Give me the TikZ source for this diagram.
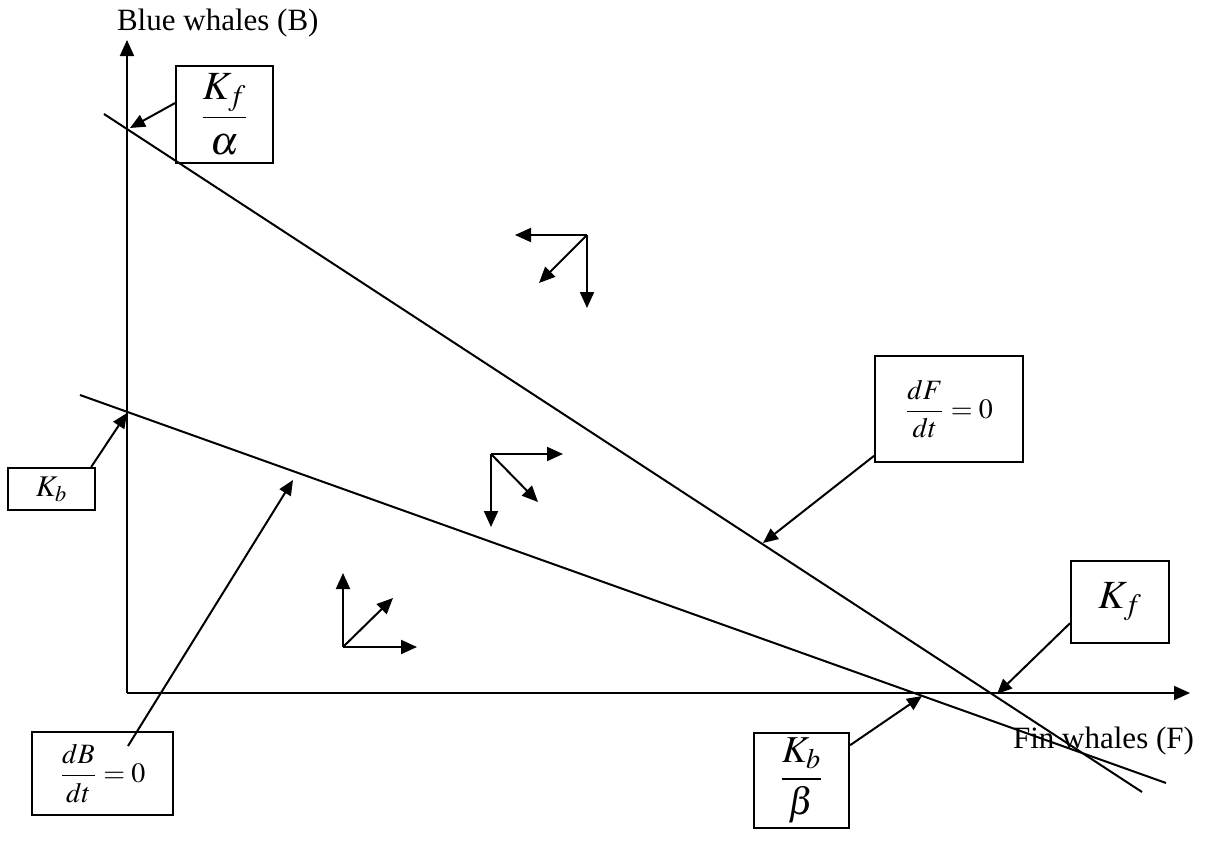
\documentclass[tikz,border=0pt]{standalone}
\usepackage{amsmath}
\usepackage{mathptmx}
\usepackage{fontspec}
\setmainfont{Liberation Serif}
\usetikzlibrary{arrows.meta,calc}

\begin{document}
\begin{tikzpicture}[
    x=0.5pt, y=-0.5pt,
    every node/.style={font=\fontsize{15.5}{18}\selectfont},
    labelbox/.style={draw, line width=1pt, inner sep=0pt},
    pointer/.style={line width=1pt, -{Triangle[length=7.5pt,width=6.5pt]}},
    vec/.style={line width=1pt, -{Triangle[length=8pt,width=7pt]}},
    axis/.style={line width=1pt, -{Triangle[length=8pt,width=7pt]}},
    isocline/.style={line width=1pt}
]
\useasboundingbox (0,0) rectangle (1205,846);

% axes
\coordinate (O) at (127,693);
\coordinate (xend) at (1190,693);
\coordinate (yend) at (127,40);
\draw[axis] (O) -- (xend);
\draw[axis] (O) -- (yend);
\node[anchor=base west] (ylab) at (110,30) {Blue whales (B)};
\node[anchor=base east] (xlab) at (1201,748) {Fin whales (F)};

% isoclines
\draw[isocline] (104,114) -- (1142,792);
\draw[isocline] (80,395) -- (1166,783);

% label boxes
\node[labelbox, minimum width=48.5pt, minimum height=48.5pt, font=\fontsize{20}{22}\selectfont] (KfA) at (224.5,114.5) {$\dfrac{K_f}{\alpha}$};
\node[labelbox, minimum width=43.5pt, minimum height=21pt, font=\fontsize{15}{17}\selectfont] (Kb) at (51.5,489) {$K_b$};
\node[labelbox, minimum width=70.5pt, minimum height=41.5pt, font=\fontsize{14}{16}\selectfont] (dBdt) at (102.5,773.5) {$\dfrac{dB}{dt}=0$};
\node[labelbox, minimum width=47.5pt, minimum height=47.5pt, font=\fontsize{19}{21}\selectfont] (KbB) at (801.5,780.5) {$\dfrac{K_b}{\beta}$};
\node[labelbox, minimum width=74pt, minimum height=53pt, font=\fontsize{14}{16}\selectfont] (dFdt) at (949,409) {$\dfrac{dF}{dt}=0$};
\node[labelbox, minimum width=49pt, minimum height=41pt, font=\fontsize{20}{22}\selectfont] (Kf) at (1120,602) {$K_f$};

% where the pointers land
\coordinate (tKfA) at (130,128);
\coordinate (tKb) at (127,413);
\coordinate (dBfoot) at (128,746);
\coordinate (tdB) at (293,480);
\coordinate (tKbB) at (922,696);
\coordinate (tdF) at (763,543);
\coordinate (tKf) at (997,694);

% pointers
\draw[pointer] (KfA.167) -- (tKfA);
\draw[pointer] (Kb.29) -- (tKb);
\draw[pointer] (dBfoot) -- (tdB);
\draw[pointer] (KbB.36) -- (tKbB);
\draw[pointer] (dFdt.212) -- (tdF);
\draw[pointer] (Kf.203) -- (tKf);

% direction of change in each region
\draw[vec] (587,235) -- (515,235);
\draw[vec] (587,235) -- (539,283);
\draw[vec] (587,235) -- (587,308);

\draw[vec] (491,454) -- (563,454);
\draw[vec] (491,454) -- (538,502);
\draw[vec] (491,454) -- (491,527);

\draw[vec] (343,647) -- (343,573);
\draw[vec] (343,647) -- (393,598);
\draw[vec] (343,647) -- (417,647);

\end{tikzpicture}
\end{document}
